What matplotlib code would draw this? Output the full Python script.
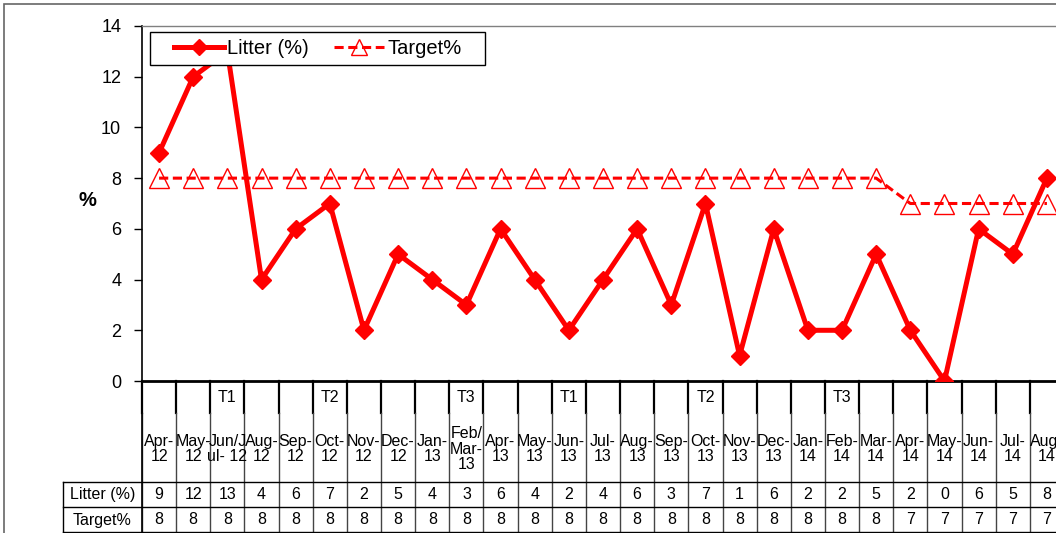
import matplotlib.pyplot as plt
from matplotlib.patches import Rectangle

plt.rcParams['font.family'] = ['Liberation Sans', 'DejaVu Sans']

months = ["Apr-\n12", "May-\n12", "Jun/J\nul- 12", "Aug-\n12", "Sep-\n12", "Oct-\n12",
          "Nov-\n12", "Dec-\n12", "Jan-\n13", "Feb/\nMar-\n13", "Apr-\n13", "May-\n13",
          "Jun-\n13", "Jul-\n13", "Aug-\n13", "Sep-\n13", "Oct-\n13", "Nov-\n13",
          "Dec-\n13", "Jan-\n14", "Feb-\n14", "Mar-\n14", "Apr-\n14", "May-\n14",
          "Jun-\n14", "Jul-\n14", "Aug-\n14"]
terms = {2: "T1", 5: "T2", 9: "T3", 12: "T1", 16: "T2", 20: "T3"}
litter = [9, 12, 13, 4, 6, 7, 2, 5, 4, 3, 6, 4, 2, 4, 6, 3, 7, 1, 6, 2, 2, 5, 2, 0, 6, 5, 8]
target = [8] * 22 + [7] * 5

W, H = 1056, 533
fig = plt.figure(figsize=(W / 100, H / 100), dpi=100)

# plot area in pixels: x 142..1064 (runs past the right edge), y 26..381
AX_L, AX_R, AX_T, AX_B = 142, 1064, 26, 381
ax = fig.add_axes([AX_L / W, 1 - AX_B / H, (AX_R - AX_L) / W, (AX_B - AX_T) / H])
x = list(range(len(months)))


def xa(px):
    return (px - AX_L) / (AX_R - AX_L)


def ya(py):
    return (AX_B - py) / (AX_B - AX_T)


ax.plot(x, litter, color="red", lw=3.6, marker="D", ms=9.5, label="Litter (%)", zorder=3)
ax.plot(x, target, color="red", lw=2.2, ls=(0, (3, 1.5)), marker="^", ms=14,
        mfc="none", mec="red", mew=1, label="Target%", zorder=2)

ax.set_xlim(-0.5, len(months) - 0.5)
ax.set_ylim(0, 14)
ax.set_yticks(range(0, 15, 2))
ax.set_xticks([])
ax.tick_params(axis="y", labelsize=13, length=6, width=1, direction="out", pad=9)
ax.set_ylabel("%", fontsize=14.5, fontweight="bold", rotation=0, ha="center", va="center")
ax.yaxis.set_label_coords(xa(87), ya(201))

for side in ["top", "right"]:
    ax.spines[side].set_color("#808080")
    ax.spines[side].set_linewidth(1)
ax.spines["left"].set_linewidth(1.2)
ax.spines["bottom"].set_linewidth(2)

# legend box (Excel-style wide padding)
ax.add_patch(Rectangle((xa(150), ya(65)), xa(485) - xa(150), ya(32) - ya(65),
                       transform=ax.transAxes, facecolor="white", edgecolor="black",
                       lw=1, zorder=4, clip_on=False))
leg = ax.legend(loc="center", bbox_to_anchor=((xa(150) + xa(485)) / 2, (ya(32) + ya(65)) / 2),
                ncol=2, fontsize=14.5, frameon=False, handlelength=2.5,
                columnspacing=1.25, borderpad=0.2, handletextpad=0.15, markerscale=0.85)
leg.set_zorder(5)

# data table drawn under the axis
tr = ax.get_xaxis_transform()
left_col = -0.5 - (AX_L - 63) / ((AX_R - AX_L) / len(months))
fs = 11.5

for i, m in enumerate(x):
    b = i - 0.5
    ax.plot([b, b], [ya(381), ya(413)], color="black", lw=1.6, transform=tr, clip_on=False)
    ax.plot([b, b], [ya(413), ya(533)], color="#444444", lw=1, transform=tr, clip_on=False)
    if i in terms:
        ax.text(m, ya(397), terms[i], transform=tr, ha="center", va="center", fontsize=fs)
    ax.text(m, ya(449), months[i], transform=tr, ha="center", va="center",
            fontsize=fs, linespacing=1.05)
    ax.text(m, ya(494.5), str(litter[i]), transform=tr, ha="center", va="center", fontsize=fs)
    ax.text(m, ya(520), str(target[i]), transform=tr, ha="center", va="center", fontsize=fs)

for py in [482, 507, 532]:
    ax.plot([left_col, len(months)], [ya(py), ya(py)], color="black", lw=1,
            transform=tr, clip_on=False)
ax.plot([left_col, left_col], [ya(482), ya(533)], color="black", lw=1,
        transform=tr, clip_on=False)
ax.plot([-0.5, -0.5], [ya(381), ya(533)], color="black", lw=1.2,
        transform=tr, clip_on=False)
row_mid = (left_col - 0.5) / 2
ax.text(row_mid, ya(494.5), "Litter (%)", transform=tr, ha="center", va="center", fontsize=fs)
ax.text(row_mid, ya(520), "Target%", transform=tr, ha="center", va="center", fontsize=fs)

# outer chart border
fig.patches.append(Rectangle((4 / W, -0.1), 1.2, 1 - 4 / H + 0.1, transform=fig.transFigure,
                             fill=False, edgecolor="#666666", lw=1.2))

fig.savefig("out.png", dpi=100)
